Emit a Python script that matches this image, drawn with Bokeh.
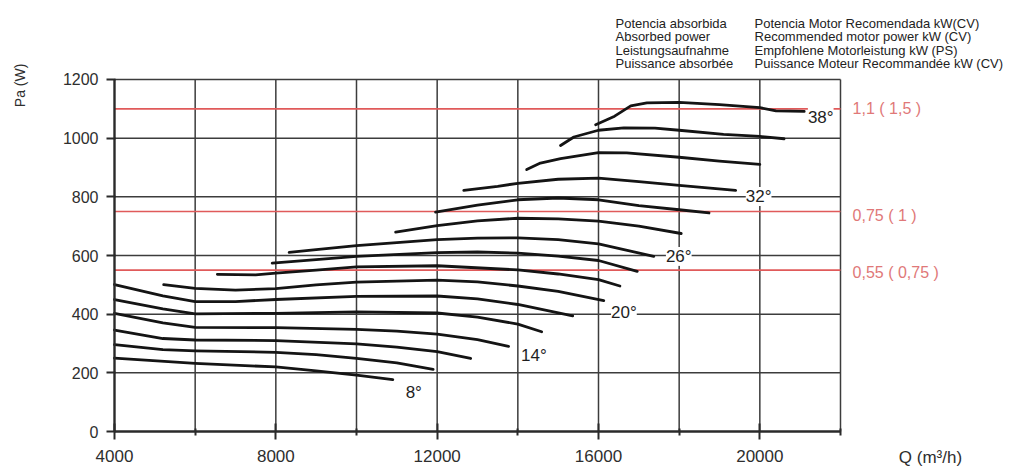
from bokeh.plotting import figure
from bokeh.models import FixedTicker, Label, LabelSet, ColumnDataSource, Range1d
from bokeh.core.properties import value
from bokeh.embed import file_html
from bokeh.resources import INLINE

# ---------------- data ----------------
x_major = [4000, 8000, 12000, 16000, 20000]
x_minor = [6000, 10000, 14000, 18000, 22000]
y_major = [0, 200, 400, 600, 800, 1000, 1200]
x_grid = [6000, 8000, 10000, 12000, 14000, 16000, 18000, 20000, 22000]
y_grid = [200, 400, 600, 800, 1000, 1200]
q_min, q_max = 4000, 22000
pa_min, pa_max = 0, 1200

c8_x = [4000, 6000, 8000, 9000, 10000, 10900]
c8_y = [250, 232, 220, 207, 192, 177]
c10_x = [4000, 5200, 6000, 8000, 9000, 10000, 11000, 11900]
c10_y = [296, 279, 275, 270, 262, 249, 234, 212]
c12_x = [4000, 5200, 6000, 8000, 10000, 11000, 12000, 12830]
c12_y = [346, 317, 312, 310, 299, 288, 272, 249]
c14_x = [4000, 5200, 6000, 8000, 10000, 11000, 12000, 13000, 13770]
c14_y = [403, 370, 355, 354, 348, 342, 332, 313, 290]
c16_x = [4000, 5200, 6000, 8000, 10000, 12000, 13000, 14000, 14590]
c16_y = [450, 418, 401, 403, 408, 404, 390, 366, 340]
c18_x = [4000, 5200, 6000, 7000, 8000, 10000, 12000, 13000, 14000, 15360]
c18_y = [501, 462, 443, 443, 450, 461, 462, 452, 433, 394]
c20_x = [5220, 6000, 7000, 8000, 9000, 10000, 12000, 13000, 14000, 15000, 16130]
c20_y = [501, 488, 482, 487, 500, 509, 516, 510, 496, 478, 446]
c22_x = [6550, 7500, 8000, 9000, 10000, 12000, 14000, 15000, 16000, 16530]
c22_y = [536, 534, 540, 550, 561, 565, 551, 537, 518, 496]
c24_x = [7910, 9000, 10000, 12000, 13000, 14000, 15000, 16000, 16960]
c24_y = [574, 586, 597, 610, 612, 608, 598, 583, 546]
c26_x = [8330, 9000, 10000, 12000, 13000, 14000, 15000, 16000, 17370]
c26_y = [611, 620, 634, 654, 659, 660, 654, 640, 597]
c28_x = [10970, 12000, 13000, 14000, 15000, 16000, 17000, 18050]
c28_y = [680, 702, 718, 727, 725, 717, 700, 675]
c30_x = [11960, 13000, 14000, 15000, 16000, 17000, 18000, 18740]
c30_y = [748, 772, 790, 796, 790, 770, 756, 745]
c32_x = [12660, 13500, 14000, 15000, 16000, 17000, 18000, 19400]
c32_y = [822, 836, 846, 860, 864, 852, 839, 822]
c34_x = [14220, 14560, 15060, 16000, 16700, 18000, 19000, 20000]
c34_y = [893, 915, 930, 951, 950, 935, 922, 911]
c36_x = [15060, 15390, 16000, 16630, 17400, 18000, 19100, 20000, 20600]
c36_y = [975, 1004, 1027, 1035, 1034, 1027, 1013, 1006, 998]
c38_x = [15930, 16400, 16800, 17200, 18000, 19000, 20000, 20400, 21100]
c38_y = [1046, 1075, 1110, 1120, 1122, 1114, 1104, 1093, 1091]

curves = [(c8_x, c8_y), (c10_x, c10_y), (c12_x, c12_y), (c14_x, c14_y),
          (c16_x, c16_y), (c18_x, c18_y), (c20_x, c20_y), (c22_x, c22_y),
          (c24_x, c24_y), (c26_x, c26_y), (c28_x, c28_y), (c30_x, c30_y),
          (c32_x, c32_y), (c34_x, c34_y), (c36_x, c36_y), (c38_x, c38_y)]

curve_labels = ["8°", "14°", "20°", "26°", "32°", "38°"]
curve_label_x = [11420, 14400, 16630, 17990, 19970, 21510]
curve_label_y = [132, 258, 405, 597, 801, 1071]

motor_levels = [1100, 750, 550]
motor_labels = ["1,1 ( 1,5 )", "0,75 ( 1 )", "0,55 ( 0,75 )"]
motor_label_y = [1101, 738, 542]

absorbed = ["Potencia absorbida", "Absorbed power", "Leistungsaufnahme", "Puissance absorbée"]
recommended = ["Potencia Motor Recomendada kW(CV)", "Recommended motor power kW (CV)",
               "Empfohlene Motorleistung kW (PS)", "Puissance Moteur Recommandée kW (CV)"]
header_y = [1390, 1345, 1299, 1254]

FONT = "Liberation Sans"

# frame covers the whole canvas so that texts in the margins are not clipped
p = figure(width=1008, height=468, x_range=Range1d(1173.6, 26165.3), y_range=Range1d(-126.1, 1469.3),
           output_backend="svg", toolbar_location=None, min_border=0)
p.background_fill_color = "white"
p.border_fill_color = "white"
p.outline_line_color = None
p.grid.visible = False

# axes placed at the data origin
p.xaxis.fixed_location = pa_min
p.yaxis.fixed_location = q_min
p.xaxis.bounds = (q_min, q_max)
p.yaxis.bounds = (pa_min, pa_max)
p.xaxis.ticker = FixedTicker(ticks=x_major, minor_ticks=x_minor)
p.yaxis.ticker = FixedTicker(ticks=y_major)
for ax in (p.xaxis[0], p.yaxis[0]):
    ax.axis_line_color = "#2a2a2a"
    ax.axis_line_width = 2.4
    ax.major_tick_line_color = "#2a2a2a"
    ax.major_tick_line_width = 2
    ax.minor_tick_line_color = "#2a2a2a"
    ax.minor_tick_line_width = 2
    ax.major_label_text_font = FONT
    ax.major_label_text_color = "#2e2e2e"
p.xaxis.major_label_text_font_size = "17px"
p.yaxis.major_label_text_font_size = "16px"
p.xaxis.major_tick_in = 8
p.xaxis.major_tick_out = 8
p.xaxis.minor_tick_in = 3
p.xaxis.minor_tick_out = 4
p.xaxis.major_label_standoff = 10
p.yaxis.major_tick_in = 1
p.yaxis.major_tick_out = 8
p.yaxis.minor_tick_in = 0
p.yaxis.minor_tick_out = 0
p.yaxis.major_label_standoff = 8

# grid lines (frame)
p.segment(x0=x_grid, y0=[pa_min] * len(x_grid), x1=x_grid, y1=[pa_max] * len(x_grid),
          line_color="#3c3c3c", line_width=1.5)
p.segment(x0=[q_min] * len(y_grid), y0=y_grid, x1=[q_max] * len(y_grid), y1=y_grid,
          line_color="#3c3c3c", line_width=1.5)

# red motor power lines
p.segment(x0=[q_min] * 3, y0=motor_levels, x1=[q_max] * 3, y1=motor_levels,
          line_color="#e05a5a", line_width=1.6)

# curves
for cx, cy in curves:
    p.line(cx, cy, line_color="#141414", line_width=2.8, line_join="round", line_cap="round")

# curve labels
src = ColumnDataSource(dict(x=curve_label_x, y=curve_label_y, t=curve_labels))
p.add_layout(LabelSet(x="x", y="y", text="t", source=src, text_font=value(FONT),
                      text_font_size=value("17px"), text_color="#1e1e1e",
                      text_align="center", text_baseline="middle",
                      background_fill_color="white", background_fill_alpha=1.0))

# motor labels
for txt, yy in zip(motor_labels, motor_label_y):
    p.add_layout(Label(x=22300, y=yy, text=txt, text_font=FONT, text_font_size="16px",
                       text_color="#e07878", text_baseline="middle", text_align="left"))

# header
for txt, yy in zip(absorbed, header_y):
    p.add_layout(Label(x=16421, y=yy, text=txt, text_font=FONT, text_font_size="13px",
                       text_color="#222222", text_baseline="alphabetic"))
for txt, yy in zip(recommended, header_y):
    p.add_layout(Label(x=19868, y=yy, text=txt, text_font=FONT, text_font_size="13px",
                       text_color="#222222", text_baseline="alphabetic"))

# axis titles
p.add_layout(Label(x=1669, y=1180, text="Pa (W)", angle=1.5708, text_font=FONT,
                   text_font_size="14px", text_color="#2e2e2e",
                   text_align="center", text_baseline="middle"))
p.add_layout(Label(x=24231, y=-88, text="Q (m³/h)", text_font=FONT,
                   text_font_size="17px", text_color="#2e2e2e",
                   text_align="center", text_baseline="middle"))

open("out.html", "w").write(file_html(p, INLINE))
